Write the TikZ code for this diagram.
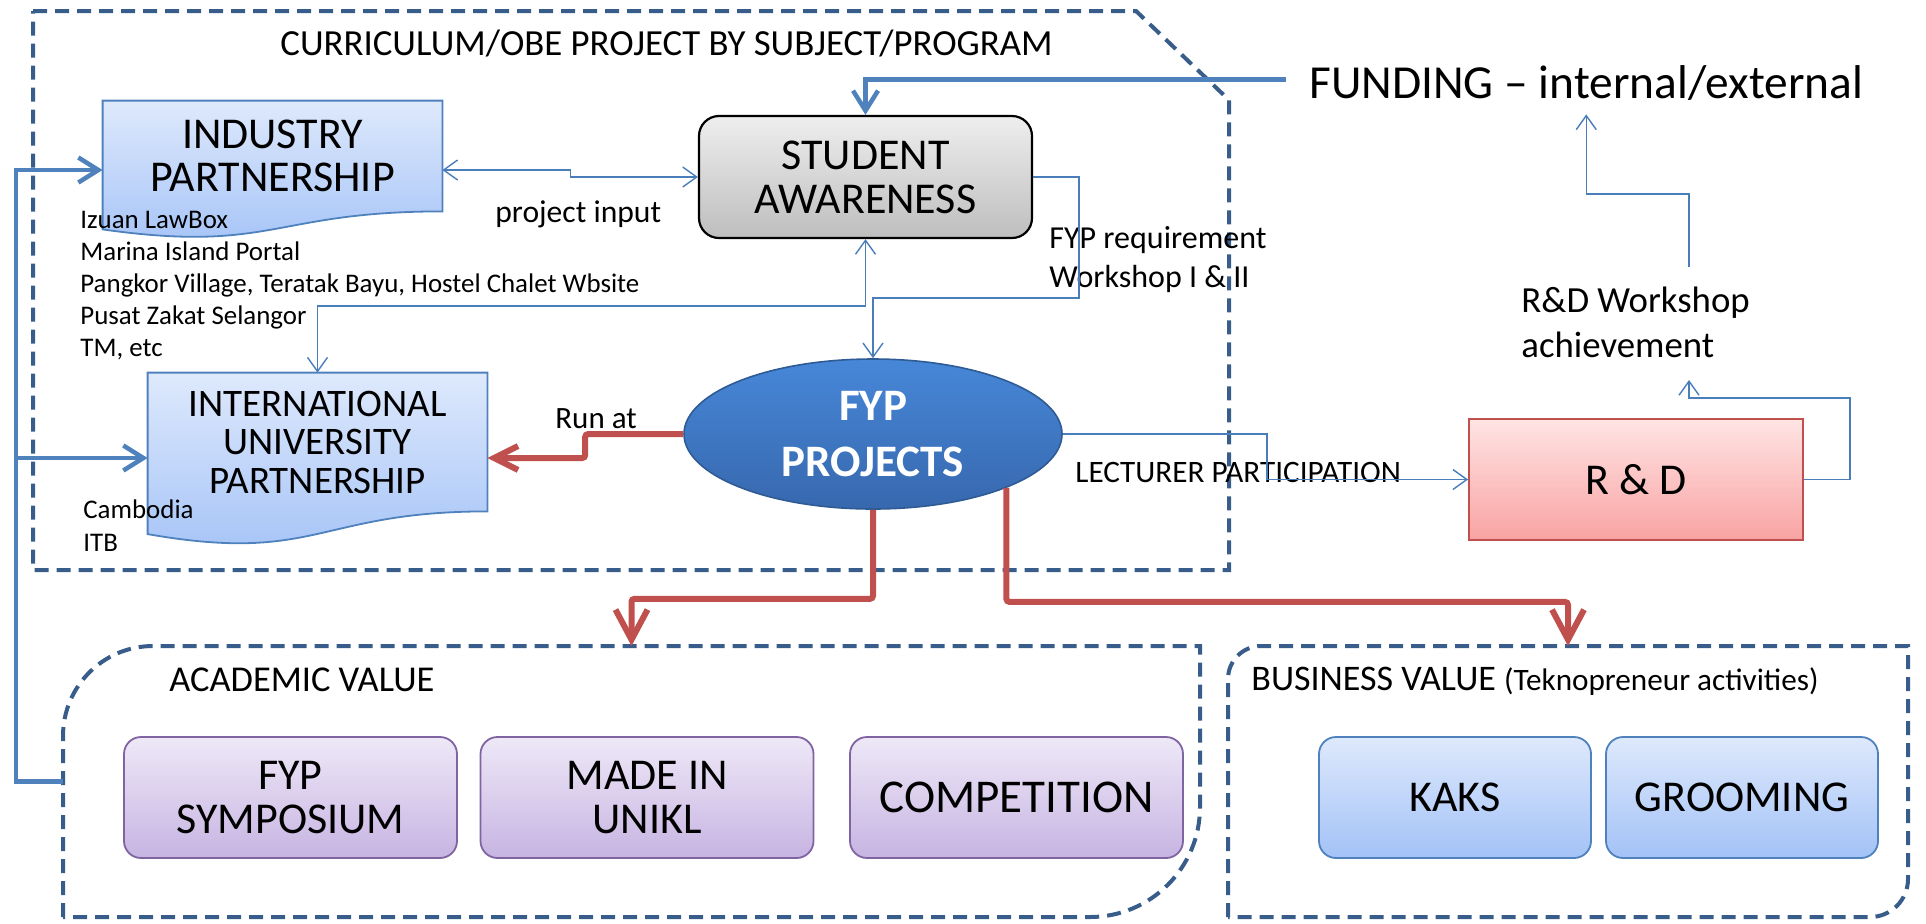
\documentclass[tikz,border=0pt]{standalone}
\usepackage{fontspec}
\setmainfont{Carlito}
\usetikzlibrary{arrows.meta, calc, shapes.geometric}
\pgfdeclarelayer{background}
\pgfsetlayers{background,main}

\definecolor{dashblue}{HTML}{385D8A}
\definecolor{linkblue}{HTML}{4A7EBB}
\definecolor{thickblue}{HTML}{4F81BD}
\definecolor{linkred}{HTML}{C0504D}
\definecolor{doctop}{HTML}{DEE9FC}
\definecolor{docbot}{HTML}{A3C2F7}
\definecolor{purptop}{HTML}{EEE8F7}
\definecolor{purpbot}{HTML}{C7B4E2}
\definecolor{purpline}{HTML}{8064A2}
\definecolor{redtop}{HTML}{FFE4E4}
\definecolor{redbot}{HTML}{F9A3A3}
\definecolor{greytop}{HTML}{EEEEEE}
\definecolor{greybot}{HTML}{BEBEBE}
\definecolor{ovaltop}{HTML}{4787D8}
\definecolor{ovalbot}{HTML}{3768AE}
\definecolor{ovalline}{HTML}{2F5B94}

\newcommand{\fsize}[2]{\fontsize{#1}{#2}\selectfont}
% wavy bottom of a partner box, below the text part of the node
\newcommand{\docwave}[3]{%
  \path[docfill] (#1.north west) -- (#1.north east) -- (#1.south east)
    .. controls (#1.south) and ($(#1.south)+(0,#3)$) .. ($(#1.south west)+(0,#2)$) -- cycle;}

\tikzset{
  partner/.style  = {shape=rectangle, align=center, inner sep=0pt,
                     minimum width=169.5pt, font=\fsize{22}{21.5}},
  docfill/.style  = {draw=thickblue, line width=0.9pt,
                     top color=doctop, bottom color=docbot},
  aware/.style    = {shape=rectangle, rounded corners=10pt, draw=black,
                     line width=1.1pt, align=center,
                     top color=greytop, bottom color=greybot,
                     minimum width=166.5pt, minimum height=61pt,
                     font=\fsize{22}{22}},
  project/.style  = {shape=ellipse, draw=ovalline, line width=0.8pt,
                     top color=ovaltop, bottom color=ovalbot, inner sep=0pt,
                     minimum width=189pt, minimum height=75pt, align=center,
                     text=white, font=\bfseries\fsize{22.5}{28}},
  research/.style = {shape=rectangle, draw=linkred, line width=0.9pt,
                     top color=redtop, bottom color=redbot,
                     minimum width=167pt, minimum height=60.5pt,
                     font=\fsize{22}{22}},
  value/.style    = {shape=rectangle, rounded corners=8.5pt, draw=purpline,
                     line width=0.9pt, align=center,
                     top color=purptop, bottom color=purpbot,
                     minimum width=166.5pt, minimum height=60.5pt,
                     font=\fsize{22}{22}},
  biz/.style      = {value, draw=thickblue, top color=doctop,
                     bottom color=docbot, minimum width=136pt},
  area/.style     = {shape=rectangle, inner sep=0pt, outer sep=0pt,
                     minimum height=135.5pt},
  lbl/.style      = {inner sep=0pt, anchor=base west, align=left},
  frame/.style    = {draw=dashblue, line width=2pt,
                     dash pattern=on 7pt off 4pt},
  link/.style     = {draw=linkblue, line width=0.7pt,
                     >={Straight Barb[length=7pt, width=10pt]}},
  feed/.style     = {draw=thickblue, line width=2.25pt,
                     >={Straight Barb[length=10pt, width=12.5pt]}},
  run/.style      = {draw=linkred, line width=3pt, rounded corners=1.5pt,
                     >={Straight Barb[length=15pt, width=16pt]}}
}

\begin{document}
\begin{tikzpicture}[x=0.5pt, y=-0.5pt]
\useasboundingbox (0,0) rectangle (1926,923);

% dashed areas
\draw[frame] (33,11) -- (1136,11) -- (1229,100) -- (1229,570) -- (33,570) -- cycle;
\node[area, minimum width=568.5pt] (acad) at (631.5,781.5) {};
\node[area, minimum width=340pt] (bus) at (1568,781.5) {};
\draw[frame] (acad.south west) -- ([yshift=-45pt]acad.north west)
  arc[start angle=180, end angle=270, radius=90] -- (acad.north east)
  -- ([yshift=55pt]acad.south east) arc[start angle=0, end angle=90, radius=110] -- cycle;
\draw[frame] (bus.south west) -- ([yshift=-16.5pt]bus.north west)
  arc[start angle=180, end angle=270, radius=33] -- (bus.north east)
  -- ([yshift=19pt]bus.south east) arc[start angle=0, end angle=90, radius=38] -- cycle;

% boxes
\node[partner, minimum height=55pt] (ind) at (272.5,156) {INDUSTRY\\PARTNERSHIP};
\node[partner, minimum height=69pt, font=\fsize{19.5}{19.25}] (intl) at (317.5,442)
  {INTERNATIONAL\\UNIVERSITY\\PARTNERSHIP};
\begin{pgfonlayer}{background}
  \docwave{ind}{18}{42}
  \docwave{intl}{22.7}{52.5}
\end{pgfonlayer}
\node[aware] (stu) at (865.5,177) {STUDENT\\AWARENESS};
\node[project] (fyp) at (873,434) {FYP\\PROJECTS};
\node[research] (rnd) at (1636,479.5) {R \& D};
\node[value] (sym) at (290.5,797.5) {FYP\\SYMPOSIUM};
\node[value] (made) at (647,797.5) {MADE IN\\UNIKL};
\node[value, font=\fsize{23.5}{23.5}] (comp) at (1016.5,797.5) {COMPETITION};
\node[biz] (kaks) at (1455,797.5) {KAKS};
\node[biz] (groom) at (1742,797.5) {GROOMING};

% texts (base of the last line)
\node[lbl, font=\fsize{18.4}{18.4}] (curr) at (280,55) {CURRICULUM/OBE PROJECT BY SUBJECT/PROGRAM};
\node[lbl, font=\fsize{23.7}{23.7}] (fund) at (1309,98) {FUNDING – internal/external};
\node[lbl, font=\fsize{15.8}{15.8}] (pin) at (495,222) {project input};
\node[lbl, font=\fsize{13.45}{16}] (indlist) at (80,356)
  {Izuan LawBox\\Marina Island Portal\\Pangkor Village, Teratak Bayu, Hostel Chalet Wbsite\\Pusat Zakat Selangor\\TM, etc};
\node[lbl, font=\fsize{13.45}{16.5}] (intllist) at (83,551) {Cambodia\\ITB};
\node[lbl, font=\fsize{15.5}{15.5}] (runat) at (555,428) {Run at};
\node[lbl, font=\fsize{16}{19.5}] (req) at (1049,287) {FYP requirement\\Workshop I \& II};
\node[lbl, font=\fsize{15.6}{15.6}] (lect) at (1075,482) {LECTURER PARTICIPATION};
\node[lbl, font=\fsize{18.4}{22.5}] (rdw) at (1521,357) {R\&D Workshop\\achievement};
\node[lbl, font=\fsize{18.2}{18.2}] (acadlbl) at (169,691) {ACADEMIC VALUE};
\node[lbl, font=\fsize{18}{18}] (buslbl) at (1251,690)
  {BUSINESS VALUE {\fsize{15.6}{15.6}(Teknopreneur activities)}};

\coordinate (rdwin) at (1689,380);
\coordinate (rdwout) at (1689,267);
\coordinate (intlin) at ([yshift=-8pt]intl.west);

% thin links
\draw[link,<->] ([yshift=-7pt]ind.east) -- ++(128,0) |- (stu.west);
\draw[link,->] (stu.east) -| (1079,298) -| (fyp.north);
\draw[link,<->] (stu.south) -- ++(0,67) -| (intl.north);
\draw[link,->] (fyp.east) -- ++(204,0) |- (rnd.west);
\draw[link,->] (rnd.east) -| (1850,398) -| (rdwin);
\draw[link,->] (rdwout) -- ++(0,-73) -| ([yshift=-7pt]fund.south);

% funding and partners
\draw[feed,->] ([xshift=-11.5pt,yshift=1.5pt]fund.west) -| (stu.north);
\draw[feed,->] (acad.west) -- ++(-47,0) coordinate (spine) |- ([yshift=-7pt]ind.west);
\draw[feed,->] (spine |- intlin) -- (intlin);

% outcomes
\draw[run,->,>={Straight Barb[length=12pt, width=12pt]}] (fyp.west) -- ++(-98,0) |- ([yshift=-8pt]intl.east);
\draw[run,->] (fyp.south) -- ++(0,89) -| (acad.north);
\draw[run,->] (fyp.-22) -- ++(0,114) -| (bus.north);

\end{tikzpicture}
\end{document}
